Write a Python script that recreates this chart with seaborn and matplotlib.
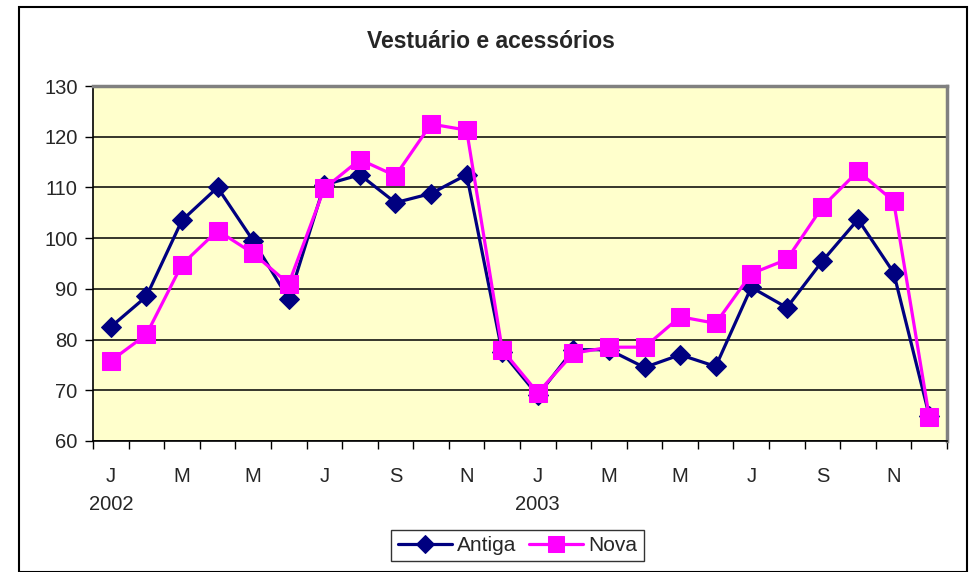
import matplotlib
matplotlib.use("Agg")
import matplotlib.pyplot as plt
import seaborn as sns
import pandas as pd
import numpy as np
from matplotlib.patches import Rectangle

months = ["Jan", "Fev", "Mar", "Abr", "Mai", "Jun", "Jul", "Ago", "Set", "Out", "Nov", "Dez"] * 2
tick_letters = ["J", "M", "M", "J", "S", "N", "J", "M", "M", "J", "S", "N"]
years = ["2002", "2003"]
antiga = [82.5, 88.5, 103.5, 110.0, 99.5, 88.0, 110.5, 112.5, 107.0, 108.8, 112.5, 77.5,
          69.0, 78.0, 78.0, 74.5, 77.0, 74.7, 90.3, 86.3, 95.5, 103.7, 93.2, 65.0]
nova = [75.8, 81.0, 94.8, 101.5, 97.0, 91.0, 109.8, 115.5, 112.3, 122.5, 121.3, 78.0,
        69.5, 77.3, 78.5, 78.5, 84.5, 83.2, 93.0, 95.8, 106.2, 113.2, 107.3, 64.8]

df = pd.DataFrame({
    "idx": list(range(24)) * 2,
    "valor": antiga + nova,
    "serie": ["Antiga"] * 24 + ["Nova"] * 24,
})

sns.set_theme(style="white")
plt.rcParams["font.family"] = ["Liberation Sans", "DejaVu Sans"]

W, H = 975, 572
fig = plt.figure(figsize=(W / 100, H / 100), dpi=100)
fig.patches.append(Rectangle((19 / W, 0), (967 - 19) / W, (H - 7) / H, transform=fig.transFigure,
                             fill=False, edgecolor="black", linewidth=1.5))

L, R, T, B = 93, 947, 86, 441
ax = fig.add_axes([L / W, 1 - B / H, (R - L) / W, (B - T) / H])
ax.set_facecolor("#FFFFCC")

palette = {"Antiga": "#000080", "Nova": "#FF00FF"}
markers = {"Antiga": "D", "Nova": "s"}
sizes = {"Antiga": 10.5, "Nova": 12.5}
for s in ["Antiga", "Nova"]:
    sub = df[df["serie"] == s]
    sns.lineplot(data=sub, x="idx", y="valor", ax=ax, color=palette[s], marker=markers[s],
                 markersize=sizes[s], markeredgecolor=palette[s], linewidth=2.3, label=s,
                 legend=False)

ax.set_xlim(-0.5, 23.5)
ax.set_ylim(60, 130)
ax.set_yticks(np.arange(60, 131, 10))
ax.set_yticklabels([str(v) for v in range(60, 131, 10)], fontsize=14.5)
ax.yaxis.grid(True, color="black", linewidth=1.1)
ax.set_axisbelow(True)
ax.set_xticks(np.arange(-0.5, 24, 1))
ax.set_xticklabels([])
ax.tick_params(axis="x", direction="out", length=6, width=1, color="black", bottom=True)
ax.tick_params(axis="y", direction="out", length=6, width=1, color="black", left=True, pad=5)
ax.set_xlabel("")
ax.set_ylabel("")

for sp in ["top", "right"]:
    ax.spines[sp].set_color("#808080")
    ax.spines[sp].set_linewidth(2.5)
for sp in ["left", "bottom"]:
    ax.spines[sp].set_color("black")
    ax.spines[sp].set_linewidth(1.2)

for i, lab in enumerate(tick_letters):
    ax.text(i * 2, -(476 - B) / (B - T), lab, transform=ax.get_xaxis_transform(),
            ha="center", va="center", fontsize=14.5)
for i, y in enumerate(years):
    ax.text(i * 12, -(505 - B) / (B - T), y, transform=ax.get_xaxis_transform(),
            ha="center", va="center", fontsize=14.5)

fig.text(491 / W, 1 - 42 / H, "Vestuário e acessórios", ha="center", va="center",
         fontsize=16.5, fontweight="bold")

handles, labels = ax.get_legend_handles_labels()
leg = fig.legend(handles, labels, loc="center", bbox_to_anchor=(517.5 / W, 1 - 545.5 / H), ncol=2,
                 frameon=True, fontsize=15, handlelength=2.6, handletextpad=0.25, columnspacing=0.6,
                 borderpad=0.3, fancybox=False, markerscale=0.9)
leg.get_frame().set_edgecolor("black")
leg.get_frame().set_linewidth(1.0)

fig.savefig("out.png", dpi=100)
